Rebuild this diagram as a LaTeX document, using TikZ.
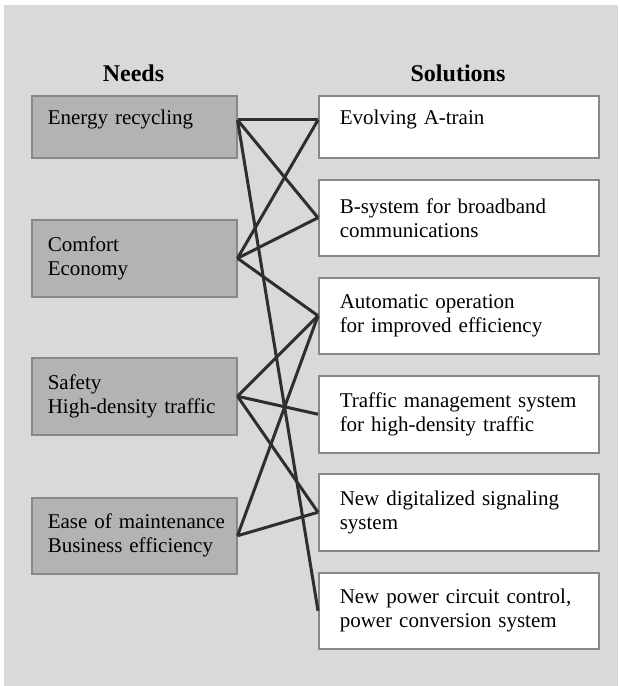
\documentclass[tikz,border=0pt]{standalone}
\usepackage{fontspec}
\setmainfont{Liberation Serif}
\usepackage{tikz}
\definecolor{panel}{HTML}{D9D9D9}
\definecolor{needfill}{HTML}{B3B3B3}
\definecolor{boxline}{HTML}{888888}
\definecolor{link}{HTML}{2E2E2E}
\newcommand{\boxfont}{\fontsize{10.5}{12}\selectfont\hyphenpenalty=10000\relax}

\begin{document}
\begin{tikzpicture}[x=0.5pt, y=-0.5pt,
		need/.style={draw=boxline, line width=0.75pt, fill=needfill, rectangle, anchor=north west, minimum width=102.5pt, inner xsep=8pt, text width=86.5pt, align=left, font=\boxfont},
		sol/.style={draw=boxline, line width=0.75pt, fill=white, rectangle, anchor=north west, minimum width=140pt, inner xsep=10.5pt, text width=119pt, align=left, font=\boxfont},
		head/.style={font=\fontsize{12}{14}\selectfont\bfseries},
		oneline/.style={text height=8pt, text depth=10.2pt},
		tie/.style={draw=link, line width=1.5pt}]
				\useasboundingbox (0, 0) rectangle (618, 686);
				\fill[panel] (4, 5) rectangle (618, 686);
				\node[head] (needs)at(133.5, 73) {Needs};
				\node[head] (solutions)at(458, 73) {Solutions};
				\node[need, oneline, minimum height=31pt] (energy)at(31, 95) {Energy recycling};
				\node[need, minimum height=38.5pt] (comfort)at(31, 219) {Comfort\\Economy};
				\node[need, minimum height=38.5pt] (safety)at(31, 357) {Safety\\High-density traffic};
				\node[need, minimum height=38pt] (ease)at(31, 497) {Ease~of~maintenance\\Business~efficiency};
				\node[sol, oneline, minimum height=31pt] (atrain)at(318, 95) {Evolving A-train};
				\node[sol, minimum height=38pt] (bsys)at(318, 179) {B-system for broadband\\communications};
				\node[sol, minimum height=38pt] (auto)at(318, 277) {Automatic operation\\for improved efficiency};
				\node[sol, minimum height=38.5pt] (traffic)at(318, 375) {Traffic~management~system\\for high-density traffic};
				\node[sol, minimum height=38.5pt] (signal)at(318, 473) {New digitalized signaling\\system};
				\node[sol, minimum height=38pt] (power)at(318, 572) {New power circuit control,\\power conversion system};
				% needs to solutions
				\draw[tie] (energy.mid east) -- (atrain.mid west);
				\draw[tie] (energy.mid east) -- (bsys.west);
				\draw[tie] (energy.mid east) -- (power.west);
				\draw[tie] (comfort.east) -- (atrain.mid west);
				\draw[tie] (comfort.east) -- (bsys.west);
				\draw[tie] (comfort.east) -- (auto.west);
				\draw[tie] (safety.east) -- (auto.west);
				\draw[tie] (safety.east) -- (traffic.west);
				\draw[tie] (safety.east) -- (signal.west);
				\draw[tie] (ease.east) -- (auto.west);
				\draw[tie] (ease.east) -- (signal.west);
		\end{tikzpicture}
\end{document}
